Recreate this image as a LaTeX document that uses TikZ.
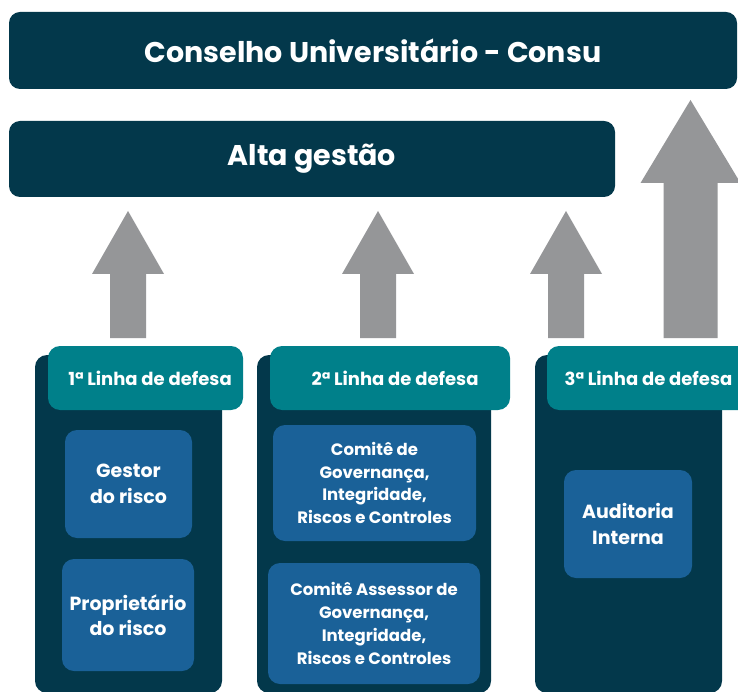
\documentclass[tikz,border=0pt]{standalone}
\usepackage{fontspec}
\setmainfont{Poppins}
\definecolor{navy}{RGB}{3,56,75}
\definecolor{tealtab}{RGB}{0,128,138}
\definecolor{boxblue}{RGB}{26,97,152}
\definecolor{arrowgray}{RGB}{149,150,152}
\newcommand\blockup[6]{% x, tip y, head base y, bottom y, half head, half shaft
  \fill[arrowgray] (#1,#2) -- (#1+#5,#3) -- (#1+#6,#3) -- (#1+#6,#4) -- (#1-#6,#4) -- (#1-#6,#3) -- (#1-#5,#3) -- cycle;}
\begin{document}
\begin{tikzpicture}[x=1pt,y=-1pt,
  bar/.style={fill=navy,rounded corners=11pt,inner sep=0pt,text=white,font=\bfseries\fontsize{28.5}{34}\selectfont},
  column/.style={fill=navy,rounded corners=12pt,inner sep=0pt},
  tab/.style={fill=tealtab,rounded corners=12pt,inner sep=0pt,text=white,font=\bfseries\fontsize{18}{21}\selectfont},
  itembox/.style={fill=boxblue,rounded corners=12pt,inner sep=0pt,text=white,align=center},
  bigtxt/.style={font=\bfseries\fontsize{19}{25.5}\selectfont},
  smalltxt/.style={font=\bfseries\fontsize{16.5}{22.7}\selectfont}]
\useasboundingbox (0,0) rectangle (738,692);
\fill[white] (0,0) rectangle (738,692);
% top bars
\node[bar,minimum width=728pt,minimum height=77pt] (consu) at (373,50.5) {Conselho Universitário - Consu};
\node[bar,minimum width=606pt,minimum height=76pt] (alta) at (312,159) {Alta gestão};
% arrows
\blockup{128}{211}{274}{338}{36}{18}
\blockup{378}{211}{274}{338}{36}{18}
\blockup{566}{211}{274}{338}{36}{18}
\blockup{690.5}{100}{183}{338}{50}{27}
% columns
\node[column,minimum width=187pt,minimum height=338pt] (col1) at (128.5,524) {};
\node[column,minimum width=234pt,minimum height=338pt] (col2) at (374,524) {};
\node[column,minimum width=187pt,minimum height=338pt] (col3) at (628.5,524) {};
% tabs
\node[tab,minimum width=195pt,minimum height=64pt] (tab1) at (145.5,378) {\hspace{9pt}1ª Linha de defesa};
\node[tab,minimum width=240pt,minimum height=64pt] (tab2) at (390,378) {\hspace{10pt}2ª Linha de defesa};
\node[tab,minimum width=203pt,minimum height=64pt] (tab3) at (648.5,378) {3ª Linha de defesa};
% item boxes
\node[itembox,bigtxt,minimum width=127pt,minimum height=108pt] (gestor) at (128.5,484) {Gestor\\do risco};
\node[itembox,bigtxt,minimum width=132pt,minimum height=112pt] (prop) at (128,615) {Proprietário\\do risco};
\node[itembox,smalltxt,minimum width=203pt,minimum height=116pt] (comite) at (374.5,483) {Comitê de\\Governança,\\Integridade,\\Riscos e Controles};
\node[itembox,smalltxt,minimum width=212pt,minimum height=121pt] (assessor) at (374,623.5) {Comitê Assessor de\\Governança,\\Integridade,\\Riscos e Controles};
\node[itembox,bigtxt,minimum width=128pt,minimum height=108pt] (audit) at (628,524) {Auditoria\\Interna};
\end{tikzpicture}
\end{document}
